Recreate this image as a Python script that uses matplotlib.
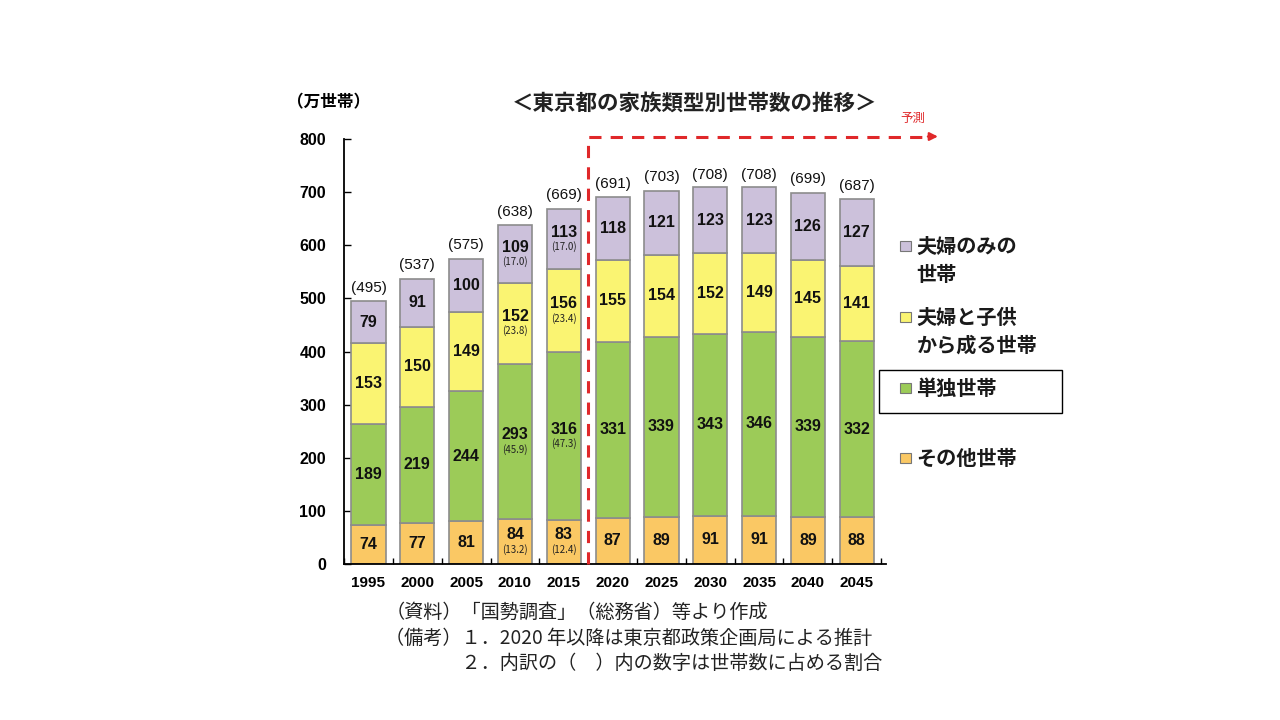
import matplotlib
matplotlib.use('Agg')
import matplotlib.pyplot as plt
from matplotlib.patches import Rectangle
import numpy as np

plt.rcParams['font.family'] = ['Noto Sans CJK JP', 'DejaVu Sans']
NUM = ['Liberation Sans', 'Noto Sans CJK JP']

# data
years = ['1995', '2000', '2005', '2010', '2015', '2020', '2025', '2030', '2035', '2040', '2045']
other = [74, 77, 81, 84, 83, 87, 89, 91, 91, 89, 88]
single = [189, 219, 244, 293, 316, 331, 339, 343, 346, 339, 332]
couple_child = [153, 150, 149, 152, 156, 155, 154, 152, 149, 145, 141]
couple = [79, 91, 100, 109, 113, 118, 121, 123, 123, 126, 127]
totals = [495, 537, 575, 638, 669, 691, 703, 708, 708, 699, 687]
# shares (%) shown for 2010 and 2015
shares = {3: [13.2, 45.9, 23.8, 17.0], 4: [12.4, 47.3, 23.4, 17.0]}

series = [other, single, couple_child, couple]
colors = ['#FAC864', '#9CCB58', '#FAF472', '#CCC1DB']
labels = [['その他世帯'], ['単独世帯'], ['夫婦と子供', 'から成る世帯'], ['夫婦のみの', '世帯']]

fig = plt.figure(figsize=(12.8, 7.2), dpi=100)
ax = fig.add_axes([0.2688, 0.2167, 0.4234, 0.590])

x = np.arange(len(years))
bottom = np.zeros(len(years))
for k, (vals, col) in enumerate(zip(series, colors)):
    vals = np.array(vals)
    ax.bar(x, vals, 0.7, bottom=bottom, color=col, edgecolor='#8C8C8C', linewidth=1.2, zorder=2)
    for i in x:
        cy = bottom[i] + vals[i] / 2
        if i in shares:
            ax.text(i, cy - 1, str(vals[i]), ha='center', va='bottom', fontsize=11.5, fontweight='bold',
                    family=NUM, color='#111111', zorder=3)
            ax.text(i, cy - 4, '(%.1f)' % shares[i][k], ha='center', va='top', fontsize=7,
                    color='#222222', zorder=3)
        else:
            ax.text(i, cy, str(vals[i]), ha='center', va='center', fontsize=11.5, fontweight='bold',
                    family=NUM, color='#111111', zorder=3)
    bottom += vals

for i in x:
    ax.text(i, totals[i] + 12, '(%d)' % totals[i], ha='center', va='bottom', fontsize=11,
            family=NUM, color='#111111')

ax.set_xlim(-0.5, 10.6)
ax.set_ylim(0, 800)
ax.set_yticks(range(0, 801, 100))
ax.set_yticklabels([str(v) for v in range(0, 801, 100)], fontsize=11.5, fontweight='bold', family=NUM)
ax.set_xticks(x)
ax.set_xticklabels(years, fontsize=11, fontweight='bold', family=NUM)
ax.set_xticks(np.arange(-0.5, 10.6, 1), minor=True)
ax.tick_params(axis='x', which='major', length=0, pad=9)
ax.tick_params(axis='x', which='minor', direction='in', length=4, width=1)
ax.tick_params(axis='y', direction='in', length=5, width=1, pad=13)
for s in ['top', 'right']:
    ax.spines[s].set_visible(False)
ax.spines['left'].set_linewidth(1.3)
ax.spines['bottom'].set_linewidth(1.3)

# forecast marker
red = '#E0282A'
ax.plot([4.5, 4.5, 11.45], [0, 805, 805], linestyle=(0, (4, 3)), color=red, lw=2.2,
        clip_on=False, zorder=4)
ax.annotate('', xy=(11.72, 805), xytext=(11.4, 805),
            arrowprops=dict(arrowstyle='-|>', color=red, lw=1.6, mutation_scale=12),
            annotation_clip=False)
ax.text(11.15, 826, '予測', color=red, fontsize=9, ha='center', va='bottom')

fig.text(0.5430, 0.856, '＜東京都の家族類型別世帯数の推移＞', ha='center', va='center',
         fontsize=15.5, fontweight='bold', color='#222222')
fig.text(0.2570, 0.858, '（万世帯）', ha='center', va='center', fontsize=12, fontweight='bold')

# legend (manual)
leg_y = [[0.3639], [0.4611], [0.5597, 0.5208], [0.6583, 0.6194]]
for col, labs, ys in zip(colors, labels, leg_y):
    fig.patches.append(Rectangle((0.7035, ys[0] - 0.0075), 0.0085, 0.015, transform=fig.transFigure,
                                 facecolor=col, edgecolor='#777777', lw=0.8))
    for lab, yy in zip(labs, ys):
        fig.text(0.716, yy, lab, ha='left', va='center', fontsize=14.5, fontweight='bold',
                 color='#1A1A1A')
fig.patches.append(Rectangle((0.6867, 0.4264), 0.1430, 0.0597, transform=fig.transFigure,
                             facecolor='none', edgecolor='black', lw=1.0))

# notes
notes = ['（資料）「国勢調査」（総務省）等より作成',
         '（備考）１．2020 年以降は東京都政策企画局による推計',
         '　　　　２．内訳の（　）内の数字は世帯数に占める割合']
for j, t in enumerate(notes):
    fig.text(0.3010, 0.149 - j * 0.0355, t, ha='left', va='center', fontsize=13.8, color='#222222')

fig.savefig('out.png', dpi=100)
